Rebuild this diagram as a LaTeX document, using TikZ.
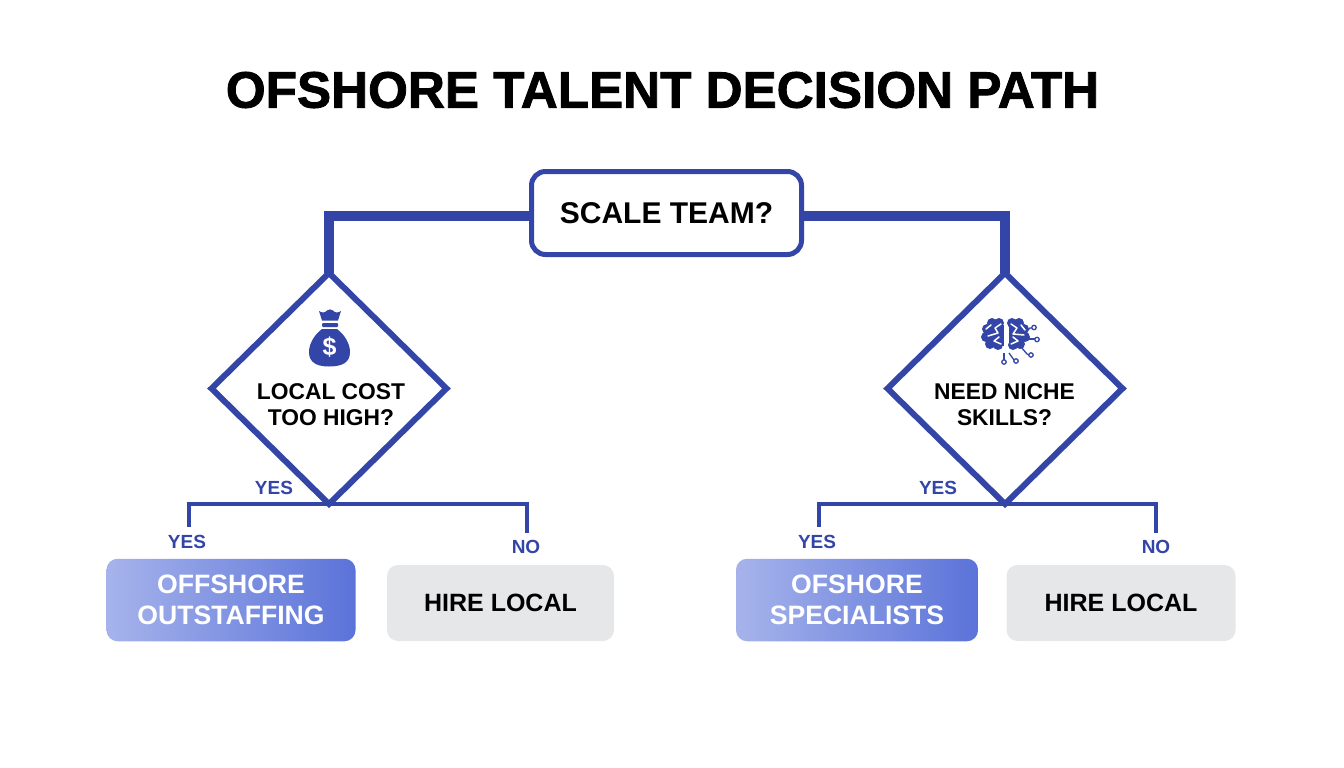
\documentclass[tikz,border=0pt]{standalone}
\usepackage{fontspec}
\setmainfont{Liberation Sans}
\newfontfamily\titlefont{Liberation Sans Bold}[FakeBold=1.6]
\usetikzlibrary{shapes.geometric, backgrounds}
\definecolor{navy}{HTML}{3346A8}
\definecolor{pale}{HTML}{A6B3EB}
\definecolor{deep}{HTML}{5B73D9}
\definecolor{mist}{HTML}{E6E7E9}
\newcommand{\px}[1]{\fontsize{#1}{#1}\selectfont\bfseries}
\tikzset{
	trunk/.style={navy, line width=10.5pt, line join=miter},
	fork/.style={navy, line width=4.5pt},
	question/.style={diamond, draw=navy, fill=white, line width=6pt, inner sep=0pt, outer sep=0pt, minimum width=235pt, minimum height=231pt},
	askline/.style={font=\px{22.8}, align=center, inner sep=0pt},
	answer/.style={font=\px{19}, text=navy, inner sep=0pt},
	result/.style={rounded corners=11pt, inner sep=0pt, minimum height=82.5pt, left color=pale, right color=deep, text=white, font=\px{26.6}, align=center},
	local/.style={rounded corners=11pt, inner sep=0pt, minimum height=76pt, fill=mist, font=\px{25}}
}
\begin{document}
\begin{tikzpicture}[x=1pt, y=-1pt]
		\useasboundingbox (0,0) rectangle (1344,768);
		%title
		\node (title) at (662.5, 90) [font={\fontsize{51.2}{51.2}\titlefont}, inner sep=0pt]{OFSHORE TALENT DECISION PATH};
		
		%top box
		\node (scale) at (666.5, 213) [draw=navy, fill=white, line width=5pt, rounded corners=14pt, minimum width=270pt, minimum height=83pt, inner sep=0pt, font=\px{30}]{SCALE TEAM?};
		
		%questions
		\node (cost) at (329, 388.5) [question]{};
		\node (niche) at (1005, 388.5) [question]{};
		\node (costtext) at (331, 404.5) [askline]{LOCAL COST\\[3pt]TOO HIGH?};
		\node (nichetext) at (1004.5, 404.5) [askline]{NEED NICHE\\[3pt]SKILLS?};
		
		%results
		\node (outstaff) at (231, 600) [result, minimum width=249pt]{OFFSHORE\\[4pt]OUTSTAFFING};
		\node (hireone) at (500.5, 603) [local, minimum width=227pt]{HIRE LOCAL};
		\node (special) at (857, 600) [result, minimum width=242pt]{OFSHORE\\[4pt]SPECIALISTS};
		\node (hiretwo) at (1121, 603) [local, minimum width=229pt]{HIRE LOCAL};
		
		%labels
		\node (yesa) at (274, 488) [answer]{YES};
		\node (yesb) at (187, 542) [answer]{YES};
		\node (noa) at (526, 547) [answer]{NO};
		\node (yesc) at (938, 488) [answer]{YES};
		\node (yesd) at (817, 542) [answer]{YES};
		\node (nob) at (1156, 547) [answer]{NO};
		
		%ends of the lines
		\coordinate (trunka) at (532, 216);
		\coordinate (trunkb) at (801, 216);
		\coordinate (forka) at (329, 504);
		\coordinate (forkb) at (1005, 504);
		\coordinate (lega) at (189, 527);
		\coordinate (legb) at (527, 533);
		\coordinate (legc) at (819, 527);
		\coordinate (legd) at (1156, 533);
		
		\begin{scope}[on background layer]
			\draw[trunk] (trunka) -| (cost.north);
			\draw[trunk] (trunkb) -| (niche.north);
			\draw[fork] (lega) |- (forka) -| (legb);
			\draw[fork] (legc) |- (forkb) -| (legd);
		\end{scope}
		
		%money bag
		\fill[navy] (319,311) .. controls (322,313) and (325,313) .. (327,310.5) .. controls (329,309) and (331,309) .. (333,310.5) .. controls (335,313) and (338,313) .. (341,311) -- (338,320.5) -- (322,320.5) -- cycle;
		\fill[navy, rounded corners=1pt] (322,323) rectangle (338,327);
		\fill[navy] (322,329) .. controls (314,335) and (309,344) .. (309,352) .. controls (309,362) and (316,366.5) .. (329,366.5) .. controls (343,366.5) and (350,362) .. (350,352) .. controls (350,344) and (345,335) .. (337,329) -- cycle;
		\node (dollar) at (329.5, 347.5) [text=white, font=\px{25}, inner sep=0pt]{\$};
		
		%brain
		\foreach \x/\y in {999/323, 992/323, 987/329, 986/337, 990/344, 998/345, 1012/323, 1019/323, 1024/329, 1025/337, 1020/344, 1013/345}{
			\fill[navy] (\x, \y) circle (5pt);
		}
		\fill[navy] (989,325) rectangle (1003.5,346);
		\fill[navy] (1008.5,325) rectangle (1022,346);
		\draw[white, line width=1.5pt, line cap=round, line join=round] (1001,324) -- (995,328) -- (998,333) -- (988,336);
		\draw[white, line width=1.5pt, line cap=round, line join=round] (1001,344) -- (994,341) -- (999,337);
		\draw[white, line width=1.5pt, line cap=round] (986,329) -- (991,325);
		\draw[white, line width=1.5pt, line cap=round, line join=round] (1011,324) -- (1017,328) -- (1013,334) -- (1024,335);
		\draw[white, line width=1.5pt, line cap=round, line join=round] (1011,344) -- (1018,341) -- (1013,337);
		\draw[white, line width=1.5pt, line cap=round] (1021,325) -- (1025,330);
		\draw[navy, line width=1.3pt] (1024,334) -- (1030,328) -- (1032,328);
		\draw[navy, line width=1.3pt] (1027,339) -- (1034.5,339);
		\draw[navy, line width=1.3pt] (1021,347) -- (1027,354) -- (1029,355);
		\draw[navy, line width=1.3pt] (1004,353) -- (1004,360);
		\draw[navy, line width=1.3pt] (1009,353) -- (1014,360);
		\foreach \x/\y in {1034/327.5, 1037/339.5, 1031/355, 1004/362, 1016/361}{
			\draw[navy, fill=white, line width=1.3pt] (\x, \y) circle (2.2pt);
		}
		\end{tikzpicture}
\end{document}
